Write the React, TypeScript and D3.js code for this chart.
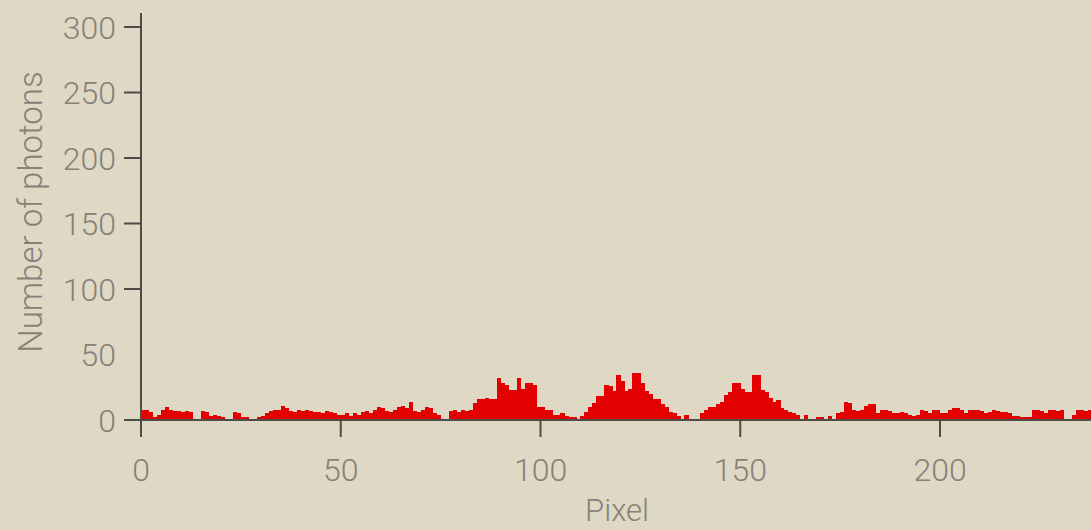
import React from "react";
import * as d3 from "d3";

// Photon counts per detector pixel (pixel 0 .. 237)
const pixelCounts: number[] = [
  8, 8, 6, 2, 4, 8, 10, 8, 7, 7,
  6, 7, 6, 1, 0, 7, 6, 3, 4, 3,
  2, 0, 1, 6, 5, 2, 2, 1, 0, 2,
  3, 5, 7, 8, 8, 11, 9, 7, 6, 8,
  7, 8, 7, 6, 6, 5, 7, 6, 5, 4,
  4, 5, 3, 5, 4, 6, 7, 5, 8, 10,
  9, 7, 6, 8, 10, 11, 9, 14, 7, 6,
  8, 10, 9, 5, 4, 1, 0, 7, 8, 6,
  8, 7, 8, 13, 16, 16, 17, 16, 16, 32,
  28, 27, 23, 23, 32, 24, 28, 28, 27, 10,
  10, 8, 8, 4, 4, 5, 3, 2, 2, 0,
  3, 6, 10, 13, 18, 18, 27, 26, 22, 34,
  30, 22, 24, 36, 36, 28, 22, 20, 16, 16,
  12, 10, 6, 5, 3, 0, 4, 0, 0, 0,
  5, 8, 10, 10, 12, 14, 19, 21, 28, 28,
  24, 21, 21, 34, 34, 23, 21, 17, 14, 15,
  9, 8, 6, 5, 4, 0, 4, 0, 0, 2,
  2, 0, 3, 0, 5, 6, 14, 13, 8, 7,
  8, 11, 12, 12, 5, 8, 8, 7, 5, 5,
  6, 5, 4, 3, 4, 8, 7, 5, 8, 8,
  5, 5, 8, 9, 9, 8, 5, 8, 8, 8,
  7, 5, 6, 8, 7, 6, 6, 5, 3, 3,
  2, 2, 2, 8, 8, 7, 5, 8, 8, 7,
  8, 1, 0, 4, 8, 8, 7, 8,
];

const xTickValues: number[] = [0, 50, 100, 150, 200];
const yTickValues: number[] = [0, 50, 100, 150, 200, 250, 300];
// ticks that carry a tick mark on the count axis
const yTickMarks: number[] = [0, 100, 150, 200, 250, 300];

const xTitle = "Pixel";
const yTitle = "Number of photons";

const W = 1091;
const H = 530;

export default function App() {
  const x = d3.scaleLinear().domain([0, 100]).range([141, 540.5]);
  const y = d3.scaleLinear().domain([0, 300]).range([420, 27]);

  const axisColor = "#4e4c46";
  const textColor = "#85827a";
  const font = "Roboto, 'Noto Sans', 'DejaVu Sans', sans-serif";
  const x0 = x(0);
  const y0 = y(0);

  return (
    <div style={{ position: "fixed", left: 0, top: 0, width: W, height: H }}>
      <svg width={W} height={H} style={{ display: "block", background: "#dfd8c5" }}>
        <rect x={0} y={0} width={W} height={H} fill="#dfd8c5" />

        {/* histogram */}
        <g shapeRendering="crispEdges">
          {pixelCounts.map((v, i) =>
            v > 0 ? (
              <rect
                key={i}
                x={x(i)}
                y={y(v)}
                width={x(i + 1) - x(i) + 0.3}
                height={y0 - y(v)}
                fill="#e30000"
              />
            ) : null
          )}
        </g>

        {/* axes */}
        <line x1={x0} x2={x0} y1={13} y2={437} stroke={axisColor} strokeWidth={2} />
        <line x1={x0} x2={W} y1={y0} y2={y0} stroke={axisColor} strokeWidth={2} />

        {yTickMarks.map((t) => (
          <line key={"ym" + t} x1={x0 - 17} x2={x0} y1={y(t)} y2={y(t)} stroke={axisColor} strokeWidth={2} />
        ))}
        {xTickValues.map((t) => (
          <line key={"xm" + t} x1={x(t)} x2={x(t)} y1={y0} y2={y0 + 17} stroke={axisColor} strokeWidth={2} />
        ))}

        {yTickValues.map((t) => (
          <text
            key={"yl" + t}
            x={116}
            y={y(t)}
            dy="0.36em"
            textAnchor="end"
            fontFamily={font}
            fontWeight={300}
            fontSize={32}
            fill={textColor}
          >
            {t}
          </text>
        ))}
        {xTickValues.map((t) => (
          <text
            key={"xl" + t}
            x={x(t)}
            y={469}
            dy="0.36em"
            textAnchor="middle"
            fontFamily={font}
            fontWeight={300}
            fontSize={32}
            fill={textColor}
          >
            {t}
          </text>
        ))}

        <text
          x={617}
          y={510}
          dy="0.36em"
          textAnchor="middle"
          fontFamily={font}
          fontWeight={300}
          fontSize={31}
          fill={textColor}
        >
          {xTitle}
        </text>
        <text
          transform={`translate(30, 212) rotate(-90)`}
          dy="0.36em"
          textAnchor="middle"
          fontFamily={font}
          fontWeight={300}
          fontSize={33}
          fill={textColor}
        >
          {yTitle}
        </text>
      </svg>
    </div>
  );
}
